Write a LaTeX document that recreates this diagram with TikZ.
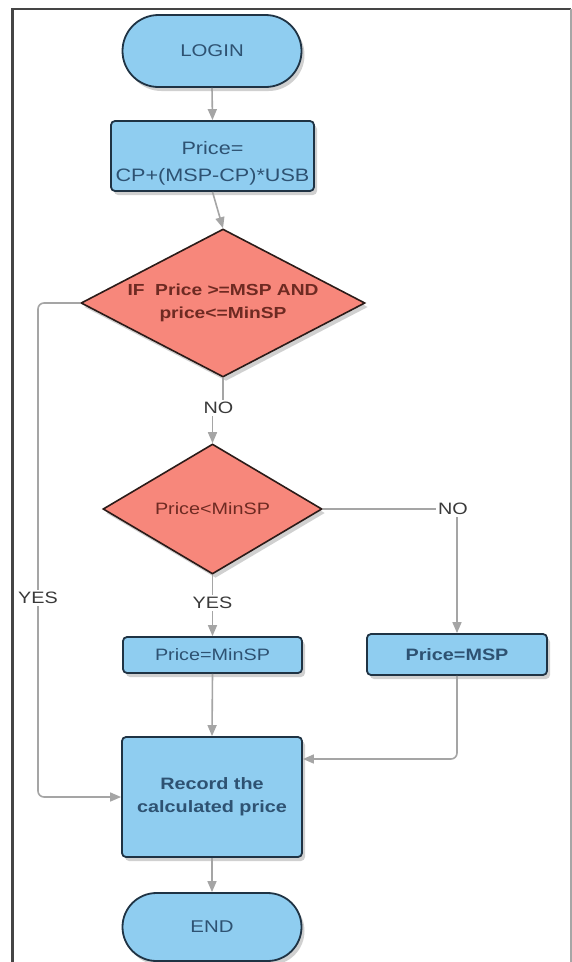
\documentclass[tikz,border=0pt]{standalone}
\usepackage{fontspec}
\setmainfont{Liberation Sans}[FakeStretch=1.2]
\usetikzlibrary{shapes.geometric,arrows.meta,shadows}
\definecolor{boxblue}{HTML}{8FCDF0}
\definecolor{boxedge}{HTML}{1F3344}
\definecolor{boxtext}{HTML}{2E5272}
\definecolor{dfill}{HTML}{F7877B}
\definecolor{dedge}{HTML}{2B1B18}
\definecolor{dtext}{HTML}{6E2A22}
\definecolor{arrowgray}{HTML}{A5A5A5}
\definecolor{lbltext}{HTML}{3A3A3A}
\definecolor{framedark}{HTML}{454545}
\begin{document}
\begin{tikzpicture}[x=1pt,y=-1pt,
  shad/.style={drop shadow={shadow xshift=3pt,shadow yshift=-4pt,opacity=0.3,fill=black!60}},
  term/.style={draw=boxedge,line width=1.8pt,fill=boxblue,minimum width=179pt,inner sep=0pt,text=boxtext,font=\fontsize{17}{20}\selectfont,shad},
  procbox/.style={draw=boxedge,line width=1.8pt,fill=boxblue,rounded corners=4pt,inner sep=0pt,text=boxtext,font=\fontsize{16.5}{23}\selectfont,shad,align=center},
  decision/.style={diamond,draw=dedge,line width=1.6pt,fill=dfill,inner sep=0pt,text=dtext,align=center,shad},
  conn/.style={draw=arrowgray,line width=1.6pt},
  arr/.style={conn,-{Triangle[length=11pt,width=9pt]}},
  lbl/.style={fill=white,inner sep=2pt,text=lbltext,font=\fontsize{16.5}{20}\selectfont}
]
\useasboundingbox (0,0) rectangle (572,962);
\fill[white] (0,0) rectangle (572,962);
\draw[line width=2.5pt,draw=framedark] (12.7,990) -- (12.7,9) -- (571,9);
\draw[line width=1.2pt,draw=black!35] (571,9) -- (571,990);

% nodes
\node[term,minimum height=72pt,rounded corners=36pt] (login) at (212,51) {LOGIN};
\node[procbox,minimum width=203pt,minimum height=70pt] (calc) at (212.5,156) {};
\node[text=boxtext,align=center,font=\fontsize{18}{27}\selectfont,inner sep=0pt] (calctext) at (212.5,163) {Price=\\CP+(MSP-CP)*USB};
\node[decision,minimum width=284pt,minimum height=148pt,aspect=1.92,font=\bfseries\fontsize{16}{23}\selectfont] (d1) at (223,303) {IF~\ Price >=MSP AND\\price<=MinSP};
\node[decision,minimum width=219pt,minimum height=130pt,aspect=1.68,font=\fontsize{16.5}{20}\selectfont] (d2) at (212.5,509) {Price<MinSP};
\node[procbox,minimum width=179pt,minimum height=36pt] (minsp) at (212.5,655) {Price=MinSP};
\node[procbox,minimum width=180pt,minimum height=41pt,font=\bfseries\fontsize{16.5}{20}\selectfont] (msp) at (457,654.5) {Price=MSP};
\node[procbox,minimum width=180pt,minimum height=120pt,font=\bfseries\fontsize{16.5}{23}\selectfont] (rec) at (212,797) {Record the\\calculated price};
\node[term,minimum height=68pt,rounded corners=34pt] (end) at (212,927) {END};

% labels
\node[lbl] (no1) at (218.5,408) {NO};
\node[lbl] (yes1) at (38,598) {YES};
\node[lbl] (yes2) at (212.5,603) {YES};
\node[lbl] (no2) at (453,509) {NO};

% connectors
\draw[arr] (login.south) -- (calc.north);
\draw[arr] (calc.south) -- (d1.north);
\draw[conn] (d1.south) -- (d1.south |- no1.north);
\draw[arr] (d2.north |- no1.south) -- (d2.north);
\draw[conn,rounded corners=6pt] (d1.west) -| (yes1.north);
\draw[arr,rounded corners=6pt] (yes1.south) |- (rec.west);
\draw[conn] (d2.south) -- (yes2.north);
\draw[arr] (yes2.south) -- (minsp.north);
\draw[conn] (d2.east) -- (no2.west);
\draw[arr] (msp.north |- no2.south) -- (msp.north);
\draw[arr] (minsp.south) -- (rec.north);
\draw[arr,rounded corners=6pt] (msp.south) |- ([yshift=38pt]rec.east);
\draw[arr] (rec.south) -- (end.north);
\end{tikzpicture}
\end{document}
